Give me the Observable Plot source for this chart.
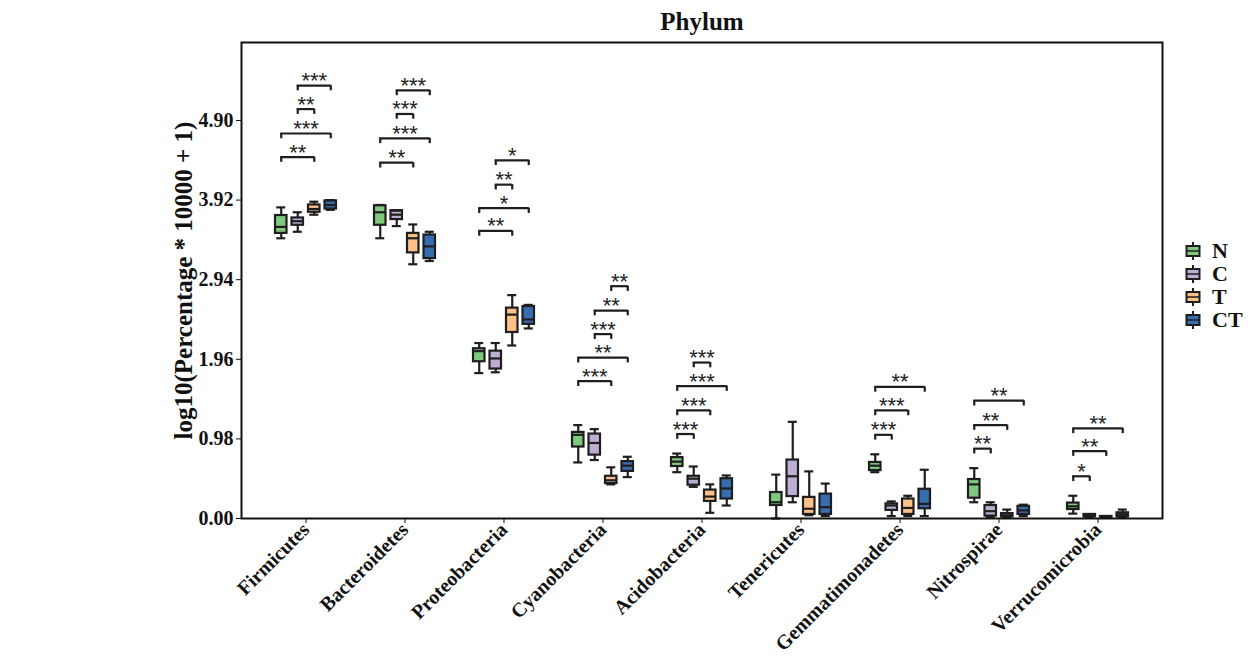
<!DOCTYPE html>
<html><head><meta charset="utf-8">
<script src="https://cdn.jsdelivr.net/npm/d3@7"></script>
<script src="https://cdn.jsdelivr.net/npm/@observablehq/plot@0.6"></script>
<style>
body{margin:0;background:#fff;}
#wrap{position:relative;width:1256px;height:657px;}
#legend{position:absolute;left:1185px;top:239px;font-family:"Liberation Serif","Times New Roman",serif;font-weight:bold;font-size:22px;line-height:1;color:#111;}
.item{display:flex;align-items:center;height:23px;}
.item svg{margin-right:11px;}
</style></head><body><div id="wrap"><div id="legend"></div></div>
<script>
const phyla = ["Firmicutes","Bacteroidetes","Proteobacteria","Cyanobacteria","Acidobacteria","Tenericutes","Gemmatimonadetes","Nitrospirae","Verrucomicrobia"];
const groups = ["N","C","T","CT"];
const groupColors = ["#7fc97f","#beaed4","#fdc086","#386cb0"];
const yTicks = [0, 0.98, 1.96, 2.94, 3.92, 4.90];
const yLabel = "log10(Percentage * 10000 + 1)";
const title = "Phylum";
// [min, q1, median, q3, max] per phylum
const statsN = [
 [3.45,3.51,3.59,3.73,3.83],
 [3.45,3.61,3.77,3.85,3.86],
 [1.79,1.93,2.06,2.09,2.16],
 [0.69,0.88,1.03,1.06,1.15],
 [0.57,0.64,0.70,0.75,0.80],
 [0.00,0.16,0.20,0.32,0.54],
 [0.57,0.59,0.65,0.69,0.79],
 [0.20,0.25,0.42,0.48,0.62],
 [0.06,0.11,0.15,0.19,0.28]
];
const statsC = [
 [3.53,3.61,3.66,3.70,3.77],
 [3.60,3.68,3.74,3.79,3.79],
 [1.80,1.84,1.97,2.06,2.16],
 [0.72,0.78,0.93,1.04,1.10],
 [0.39,0.41,0.49,0.52,0.64],
 [0.20,0.27,0.52,0.72,1.19],
 [0.03,0.10,0.16,0.18,0.21],
 [0.02,0.03,0.09,0.16,0.20],
 [0.02,0.02,0.04,0.05,0.05]
];
const statsT = [
 [3.74,3.77,3.81,3.86,3.90],
 [3.13,3.27,3.45,3.51,3.62],
 [2.13,2.29,2.51,2.59,2.75],
 [0.42,0.43,0.47,0.52,0.63],
 [0.07,0.21,0.27,0.35,0.42],
 [0.04,0.05,0.12,0.26,0.58],
 [0.03,0.05,0.13,0.24,0.28],
 [0.01,0.02,0.04,0.06,0.11],
 [0.01,0.015,0.02,0.025,0.03]
];
const statsCT = [
 [3.80,3.81,3.86,3.91,3.92],
 [3.17,3.20,3.35,3.49,3.53],
 [2.34,2.39,2.45,2.61,2.63],
 [0.51,0.58,0.65,0.70,0.76],
 [0.16,0.24,0.37,0.49,0.53],
 [0.03,0.05,0.14,0.30,0.43],
 [0.03,0.12,0.18,0.36,0.60],
 [0.03,0.05,0.10,0.15,0.17],
 [0.02,0.02,0.05,0.07,0.11]
];
// significance brackets
const sigPhylum = ["Firmicutes","Firmicutes","Firmicutes","Firmicutes",
 "Bacteroidetes","Bacteroidetes","Bacteroidetes","Bacteroidetes",
 "Proteobacteria","Proteobacteria","Proteobacteria","Proteobacteria",
 "Cyanobacteria","Cyanobacteria","Cyanobacteria","Cyanobacteria","Cyanobacteria",
 "Acidobacteria","Acidobacteria","Acidobacteria","Acidobacteria",
 "Gemmatimonadetes","Gemmatimonadetes","Gemmatimonadetes",
 "Nitrospirae","Nitrospirae","Nitrospirae",
 "Verrucomicrobia","Verrucomicrobia","Verrucomicrobia"];
const sigFrom = ["N","N","C","C", "N","N","C","C", "N","N","C","C", "N","N","C","C","T", "N","N","N","C", "N","N","N", "N","N","N", "N","N","N"];
const sigTo   = ["T","CT","T","CT", "T","CT","T","CT", "T","CT","T","CT", "T","CT","T","CT","CT", "C","T","CT","T", "C","T","CT", "C","T","CT", "C","T","CT"];
const sigLevel = [4.45,4.74,5.04,5.33, 4.38,4.68,4.98,5.27, 3.54,3.82,4.11,4.41, 1.69,1.98,2.27,2.56,2.86, 1.04,1.33,1.63,1.92, 1.03,1.33,1.62, 0.86,1.15,1.45, 0.52,0.83,1.11];
const sigLabel = ["**","***","**","***", "**","***","***","***", "**","*","**","*", "***","**","***","**","**", "***","***","***","***", "***","***","**", "**","**","**", "*","**","**"];

// layout / style constants
const W = 1256, H = 657, mL = 241, mR = 94, mT = 42, mB = 139;
const padIn = 0.2, padOut = 0.205;
const step = (W - mL - mR) / (phyla.length - padIn + 2 * padOut);
const bw = step * (1 - padIn);
const groupSpacing = 16.5, boxW = 12.5, capW = 10, sw = 2.2, ink = "#1e1e1e";
const tickLen = 0.065;
const off = gi => (gi - 1.5) * groupSpacing;
const stats = [statsN, statsC, statsT, statsCT];

const marks = [];
groups.forEach((g, gi) => {
  const rows = phyla.map((p, pi) => {
    const s = stats[gi][pi];
    return {phylum: p, min: s[0], q1: s[1], med: s[2], q3: s[3], max: s[4]};
  });
  const dx = off(gi);
  marks.push(
    Plot.ruleX(rows, {x: "phylum", y1: "min", y2: "max", dx, stroke: ink, strokeWidth: sw}),
    Plot.barY(rows, {x: "phylum", y1: "q1", y2: "q3", dx, insetLeft: (bw - boxW) / 2, insetRight: (bw - boxW) / 2, fill: groupColors[gi], stroke: ink, strokeWidth: sw}),
    Plot.tickY(rows, {x: "phylum", y: "med", dx, insetLeft: (bw - boxW) / 2, insetRight: (bw - boxW) / 2, stroke: ink, strokeWidth: sw}),
    Plot.tickY(rows, {x: "phylum", y: "min", dx, insetLeft: (bw - capW) / 2, insetRight: (bw - capW) / 2, stroke: ink, strokeWidth: sw}),
    Plot.tickY(rows, {x: "phylum", y: "max", dx, insetLeft: (bw - capW) / 2, insetRight: (bw - capW) / 2, stroke: ink, strokeWidth: sw})
  );
});

const sig = sigPhylum.map((p, i) => ({phylum: p, a: groups.indexOf(sigFrom[i]), b: groups.indexOf(sigTo[i]), level: sigLevel[i], label: sigLabel[i]}));
const pairs = d3.groups(sig, d => d.a + "-" + d.b);
for (const [, rows] of pairs) {
  const a = rows[0].a, b = rows[0].b;
  marks.push(
    Plot.tickY(rows, {x: "phylum", y: "level", insetLeft: bw / 2 + off(a) - 1, insetRight: bw / 2 - off(b) - 1, stroke: ink, strokeWidth: sw}),
    Plot.ruleX(rows, {x: "phylum", y1: "level", y2: d => d.level - tickLen, dx: off(a), stroke: ink, strokeWidth: sw}),
    Plot.ruleX(rows, {x: "phylum", y1: "level", y2: d => d.level - tickLen, dx: off(b), stroke: ink, strokeWidth: sw}),
    Plot.text(rows, {x: "phylum", y: "level", text: "label", dx: (off(a) + off(b)) / 2, dy: 2.5, lineAnchor: "bottom", fontFamily: '"Liberation Sans", Arial, sans-serif', fontWeight: "normal", fontSize: 22, fill: "#222"})
  );
}
marks.push(
  Plot.frame({stroke: "#111", strokeWidth: 2}),
  Plot.text([title], {frameAnchor: "top", dy: -21, text: d => d, fontSize: 25, lineAnchor: "middle", textAnchor: "middle"}),
  Plot.text([yLabel], {frameAnchor: "left", rotate: -90, dx: -58, text: d => d, fontSize: 25, lineAnchor: "middle", textAnchor: "middle"})
);

const chart = Plot.plot({
  width: W, height: H, marginLeft: mL, marginRight: mR, marginTop: mT, marginBottom: mB,
  style: {fontFamily: '"Liberation Serif","Times New Roman",serif', fontSize: "20px", fontWeight: "bold", color: "#111", background: "white", overflow: "visible"},
  x: {domain: phyla, paddingInner: padIn, paddingOuter: padOut, align: 0.5, tickRotate: -45, tickSize: 5, tickPadding: 3, label: null},
  y: {domain: [0, 5.86], ticks: yTicks, tickFormat: d => d.toFixed(2), tickSize: 5, tickPadding: 3, label: null},
  marks
});
document.getElementById("wrap").prepend(chart);

// legend
const legend = d3.select("#legend");
groups.forEach((g, gi) => {
  const item = legend.append("div").attr("class", "item");
  const svg = item.append("svg").attr("width", 16).attr("height", 18);
  svg.append("line").attr("x1", 8).attr("x2", 8).attr("y1", 0).attr("y2", 18).attr("stroke", ink).attr("stroke-width", 2);
  svg.append("rect").attr("x", 1.5).attr("y", 4).attr("width", 13).attr("height", 10).attr("fill", groupColors[gi]).attr("stroke", ink).attr("stroke-width", 2);
  svg.append("line").attr("x1", 2).attr("x2", 14).attr("y1", 9).attr("y2", 9).attr("stroke", ink).attr("stroke-width", 1.5);
  item.append("span").text(g);
});
</script>
</body></html>
